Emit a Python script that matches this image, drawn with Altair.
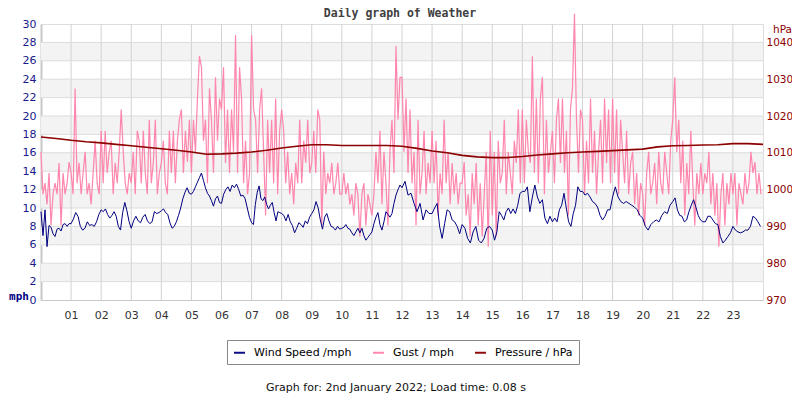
import altair as alt
import pandas as pd

# ---------------- data ----------------
series_names = ["Wind Speed /mph", "Gust / mph", "Pressure / hPa"]
series_colors = ["#000080", "#ff80a8", "#8b0000"]

hour_ticks = list(range(1, 24))
mph_ticks = list(range(0, 31, 2))
hpa_ticks = list(range(970, 1041, 10))
band_lo = [2, 6, 10, 14, 18, 22, 26]
band_hi = [4, 8, 12, 16, 20, 24, 28]

# wind speed (mph), readings per hour (evenly spread across the hour)
wind_by_hour = [
    [9.6, 7.0, 9.8, 5.8, 8.1, 7.9, 7.2, 6.9, 7.7, 7.8, 7.5, 8.2, 8.3, 8.0, 8.3],
    [8.3, 8.8, 9.5, 9.1, 8.0, 7.6, 7.8, 8.5, 8.1, 8.2, 8.0, 8.5, 9.3],
    [9.8, 9.6, 9.9, 9.3, 8.9, 9.2, 9.6, 9.1, 8.0, 7.6, 9.5, 10.6, 9.7, 8.5],
    [7.8, 8.6, 9.1, 8.6, 8.4, 9.0, 9.3, 8.6, 8.3, 8.5, 9.6, 9.4, 9.5],
    [9.7, 9.9, 9.5, 9.3, 8.4, 7.8, 8.0, 8.5, 9.2, 10.0, 11.0, 11.7, 12.2, 11.6],
    [11.5, 11.8, 12.3, 12.8, 13.3, 13.8, 13.0, 12.2, 11.6, 11.3, 10.8, 10.2, 11.0, 11.3, 10.6],
    [10.5, 11.5, 12.0, 12.3, 11.8, 12.5, 12.2, 12.6, 12.0, 11.3, 11.4, 11.0, 10.0, 9.0],
    [8.4, 8.2, 10.4, 11.7, 12.4, 11.0, 10.8, 11.2, 10.4, 9.9, 10.3, 10.6, 9.5, 8.6, 9.6, 9.5],
    [9.4, 9.2, 8.6, 9.3, 8.5, 8.1, 7.3, 7.8, 8.4, 8.2, 7.9, 8.6, 8.3, 9.0],
    [9.4, 9.8, 10.7, 10.0, 8.7, 7.7, 9.0, 9.4, 8.6, 8.0, 7.9, 7.6, 8.0, 7.7],
    [7.8, 7.9, 8.2, 7.8, 7.7, 7.3, 7.0, 7.4, 7.8, 7.3, 7.8, 7.0, 6.5, 6.8, 7.1],
    [7.4, 8.3, 9.0, 9.5, 8.2, 7.6, 8.5, 9.6, 9.3, 9.0, 9.4, 10.5, 11.4, 12.0, 12.5],
    [12.2, 12.9, 11.4, 11.6, 10.5, 9.6, 10.5, 8.7, 9.8, 9.4],
    [9.4, 10.0, 10.5, 8.0, 6.7, 8.3, 9.8, 9.6, 8.7, 8.5, 8.0, 7.2],
    [8.2, 7.8, 6.7, 6.2, 7.4, 8.0, 6.5, 6.2, 6.7, 7.8, 8.0],
    [7.6, 6.5, 7.4, 9.6, 9.2, 8.7, 9.6, 10.0, 9.4, 9.9, 9.4, 10.3, 11.6],
    [11.8, 11.8, 12.3, 9.6, 11.2, 12.5, 11.2, 10.5, 10.9, 8.9, 8.3, 9.1],
    [8.5, 8.9, 8.5, 9.8, 10.3, 11.6, 10.0, 8.5, 8.0, 9.4, 10.3, 12.3, 11.8],
    [11.8, 11.4, 11.6, 11.2, 10.7, 10.5, 10.1, 9.2, 8.7, 9.1, 9.8, 9.8],
    [11.2, 12.3, 11.2, 10.7, 10.5, 10.7, 10.5, 10.3, 10.1, 9.8, 9.2],
    [8.9, 8.0, 7.6, 8.2, 8.5, 8.7, 8.5, 9.2, 9.6, 9.4, 10.3],
    [10.7, 11.1, 9.8, 9.2, 9.1, 8.5, 8.7, 9.6, 10.3, 10.9, 10.1, 9.2, 8.7],
    [8.5, 8.5, 9.1, 9.1, 8.7, 8.3, 8.2, 6.9, 6.2, 6.5, 6.9, 7.3],
    [8.0, 7.6, 7.4, 7.3, 7.4, 7.6, 7.6, 8.0, 9.1, 8.9, 8.5, 8.0],
]

# gust (mph), readings per hour
gust_by_hour = [
    [16.1, 11.5, 12.7, 10.4, 13.8, 8.1, 11.5, 12.7, 11.5, 14.9, 8.1, 13.8, 11.5, 12.7, 15.0],
    [13.8, 11.5, 23.0, 12.7, 14.9, 11.5, 13.8, 16.1, 11.5, 12.7, 10.4, 13.8, 17.3, 12.7, 11.5],
    [18.4, 12.7, 18.4, 13.8, 16.1, 17.3, 11.5, 14.9, 12.7, 16.1, 20.7, 16.1, 12.7, 11.5, 13.8],
    [12.7, 16.1, 11.5, 18.4, 17.3, 12.7, 18.4, 13.8, 11.5, 19.6, 12.7, 14.9, 19.6, 11.5, 13.8],
    [14.9, 17.3, 12.7, 11.5, 18.4, 13.8, 18.4, 12.7, 17.3, 19.6, 20.7, 13.8, 18.4, 15.0, 19.6],
    [13.8, 19.6, 16.1, 21.9, 26.5, 25.3, 17.3, 19.6, 12.7, 23.0, 19.6, 13.8, 24.2, 17.3, 21.9],
    [20.7, 25.3, 14.9, 20.7, 13.8, 20.7, 16.1, 28.8, 13.8, 25.3, 21.9, 12.7, 17.3, 11.5, 13.8],
    [28.8, 20.7, 19.6, 13.8, 20.7, 23.0, 16.1, 9.2, 19.6, 13.8, 19.6, 12.7, 21.9, 11.5, 18.4],
    [20.7, 18.4, 12.7, 16.1, 11.5, 13.8, 10.4, 14.9, 12.7, 19.6, 12.7, 17.3, 14.9, 19.6, 13.8],
    [14.9, 18.4, 13.8, 20.7, 19.6, 8.1, 16.1, 11.5, 13.8, 12.7, 14.9, 11.5, 12.7, 14.9, 11.5],
    [11.5, 13.8, 11.5, 12.7, 10.4, 11.5, 9.2, 12.7, 11.5, 6.9, 11.5, 12.7, 8.1, 11.5, 10.4],
    [9.2, 11.5, 16.1, 12.7, 18.4, 10.4, 16.1, 12.7, 8.1, 16.1, 19.6, 13.8, 27.6, 19.6, 24.2],
    [24.2, 16.1, 21.9, 13.8, 20.7, 12.7, 16.1, 8.1, 19.6, 11.5, 13.8, 18.4, 11.5, 14.9, 12.7],
    [18.4, 12.7, 17.3, 9.2, 13.8, 11.5, 19.6, 12.7, 16.1, 10.4, 14.9, 11.5, 13.8, 10.4, 12.7],
    [12.7, 15.0, 9.2, 11.5, 6.9, 13.8, 10.4, 14.9, 8.1, 12.7, 6.9, 11.5, 16.1, 5.8, 18.4],
    [9.2, 16.1, 6.9, 17.3, 12.7, 13.8, 19.6, 11.5, 16.1, 13.8, 11.5, 17.3, 14.9, 20.7, 12.7],
    [20.7, 12.7, 19.6, 16.1, 14.9, 26.5, 13.8, 21.9, 12.7, 21.9, 24.2, 11.5, 19.6, 13.8, 16.1],
    [18.4, 12.7, 19.6, 21.9, 14.9, 21.9, 13.8, 18.4, 9.2, 20.7, 23.0, 31.1, 19.6, 13.8, 20.7],
    [19.6, 11.5, 17.3, 12.7, 21.9, 13.8, 18.4, 11.5, 16.1, 19.6, 12.7, 21.9, 14.9, 20.7, 12.7],
    [21.9, 13.8, 20.7, 11.5, 19.6, 16.1, 12.7, 18.4, 11.5, 14.9, 16.1, 10.4, 13.8, 9.2, 12.7],
    [11.5, 8.1, 13.8, 16.1, 11.5, 12.7, 14.9, 10.4, 16.1, 12.7, 11.5, 16.1, 13.8, 11.5, 17.3],
    [19.6, 24.2, 16.1, 19.6, 12.7, 17.3, 9.2, 14.9, 11.5, 18.4, 12.7, 8.1, 13.8, 11.5, 14.9],
    [11.5, 13.8, 12.7, 16.1, 10.4, 13.8, 9.2, 12.7, 5.8, 11.5, 13.8, 8.1, 12.7, 10.4, 13.8],
    [11.5, 13.8, 8.1, 12.7, 11.5, 10.4, 13.8, 11.5, 12.7, 16.1, 13.8, 15.0, 11.5, 13.8, 11.5],
]

# pressure (hPa), every half hour from 00:00 to 24:00
pressure_hpa = [
    1014.3, 1013.9, 1013.4, 1013.0, 1012.7, 1012.3, 1011.9, 1011.5, 1011.1, 1010.7,
    1010.2, 1009.6, 1009.7, 1009.9, 1010.2, 1010.7, 1011.3, 1011.8, 1012.2, 1012.2,
    1012.0, 1012.0, 1012.0, 1012.0, 1011.8, 1011.2, 1010.5, 1010.0, 1009.3, 1008.9,
    1008.7, 1008.7, 1009.0, 1009.4, 1009.7, 1010.0, 1010.2, 1010.4, 1010.6, 1010.8,
    1011.0, 1011.6, 1011.9, 1012.0, 1012.1, 1012.2, 1012.5, 1012.5, 1012.3,
]

title_text = "Daily graph of Weather"
footer_text = "Graph for: 2nd January 2022; Load time: 0.08 s"

# ---------------- tables ----------------
def hourly_frame(by_hour, name):
    rows = []
    for k, vals in enumerate(by_hour):
        n = len(vals)
        for i, v in enumerate(vals):
            rows.append({"t": k + i / n, "v": v, "series": name})
    return pd.DataFrame(rows)

wind_df = hourly_frame(wind_by_hour, series_names[0])
gust_df = hourly_frame(gust_by_hour, series_names[1])
pres_df = pd.DataFrame({"t": [i * 0.5 for i in range(len(pressure_hpa))],
                        "v": pressure_hpa, "series": series_names[2]})
band_df = pd.DataFrame({"lo": band_lo, "hi": band_hi, "x0": 0, "x1": 24})
vgrid_df = pd.DataFrame({"h": hour_ticks})
hgrid_df = pd.DataFrame({"m": mph_ticks[1:-1]})

# ---------------- scales / axes ----------------
W, H = 722, 276
xscale = alt.Scale(domain=[0, 24], nice=False, zero=False)
yscale = alt.Scale(domain=[0, 30], nice=False)
pscale = alt.Scale(domain=[970, 1045], nice=False, zero=False)
cscale = alt.Scale(domain=series_names, range=series_colors)

legend = alt.Legend(
    title=None, orient="none", legendX=186, legendY=316, direction="horizontal",
    symbolType="stroke", symbolStrokeWidth=2, symbolSize=121,
    labelFont="DejaVu Sans", labelFontSize=11, labelColor="#000000",
    padding=6, strokeColor="#888888", fillColor="#ffffff",
    columnPadding=17, labelOffset=8,
)

x_axis = alt.Axis(values=hour_ticks, format="02d", grid=False, ticks=False,
                  domain=True, domainColor="#c8c8c8", labelFont="DejaVu Sans",
                  labelFontSize=11, labelColor="#333333", labelPadding=9, title=None)
y_axis = alt.Axis(values=mph_ticks, format="d", grid=False, ticks=False, domain=True,
                  domainColor="#c8c8c8", domainWidth=2, labelFont="DejaVu Sans",
                  labelFontSize=11, labelColor="#1a1a8a", labelPadding=5,
                  title="mph", titleAngle=0, titleX=-22.5, titleY=272,
                  titleAlign="center", titleBaseline="middle",
                  titleFont="DejaVu Sans Mono", titleFontSize=11, titleFontWeight="bold",
                  titleColor="#000080")
p_axis = alt.Axis(orient="right", values=hpa_ticks, format="d", grid=False, ticks=False,
                  domain=False, labelFont="DejaVu Sans", labelFontSize=10.5,
                  labelColor="#8b0000", labelPadding=3,
                  title="hPa", titleAngle=0, titleX=19, titleY=5,
                  titleAlign="center", titleBaseline="middle",
                  titleFont="DejaVu Sans", titleFontSize=10.5, titleFontWeight="normal",
                  titleColor="#8b0000")

# ---------------- layers ----------------
bands = alt.Chart(band_df).mark_rect(color="#f3f3f3").encode(
    x=alt.X("x0:Q", scale=xscale, axis=x_axis), x2="x1:Q",
    y=alt.Y("lo:Q", scale=yscale, axis=y_axis), y2="hi:Q",
)
vgrid = alt.Chart(vgrid_df).mark_rule(color="#d2d2d2", strokeWidth=1).encode(
    x=alt.X("h:Q", scale=xscale, axis=x_axis))
hgrid = alt.Chart(hgrid_df).mark_rule(color="#dcdcdc", strokeWidth=1).encode(
    y=alt.Y("m:Q", scale=yscale, axis=y_axis))

gust = alt.Chart(gust_df).mark_line(strokeWidth=1.2, opacity=0.95).encode(
    x=alt.X("t:Q", scale=xscale, axis=x_axis),
    y=alt.Y("v:Q", scale=yscale, axis=y_axis),
    color=alt.Color("series:N", scale=cscale, legend=legend),
)
wind = alt.Chart(wind_df).mark_line(strokeWidth=1).encode(
    x=alt.X("t:Q", scale=xscale, axis=x_axis),
    y=alt.Y("v:Q", scale=yscale, axis=y_axis),
    color=alt.Color("series:N", scale=cscale, legend=legend),
)
pres = alt.Chart(pres_df).mark_line(strokeWidth=1.6).encode(
    x=alt.X("t:Q", scale=xscale, axis=x_axis),
    y=alt.Y("v:Q", scale=pscale, axis=p_axis),
    color=alt.Color("series:N", scale=cscale, legend=legend),
)

title = alt.Chart(pd.DataFrame({"s": [title_text]})).mark_text(
    font="DejaVu Sans Mono", fontSize=11.5, fontWeight="bold", color="#404040",
    align="center", baseline="middle").encode(
    text="s:N", x=alt.value(359), y=alt.value(-10))
footer = alt.Chart(pd.DataFrame({"s": [footer_text]})).mark_text(
    font="DejaVu Sans", fontSize=11, color="#111111",
    align="center", baseline="middle").encode(
    text="s:N", x=alt.value(355), y=alt.value(364))

left = alt.layer(bands, vgrid, hgrid, gust, wind)
chart = alt.layer(left, pres, title, footer).resolve_scale(y="independent").properties(
    width=W, height=H, autosize="none",
    padding={"left": 33, "top": 16, "right": 29, "bottom": 94},
).configure_view(stroke="#c8c8c8", strokeWidth=1).configure(background="white")

chart.save("out.html", embed_options={"renderer": "svg", "actions": False})
